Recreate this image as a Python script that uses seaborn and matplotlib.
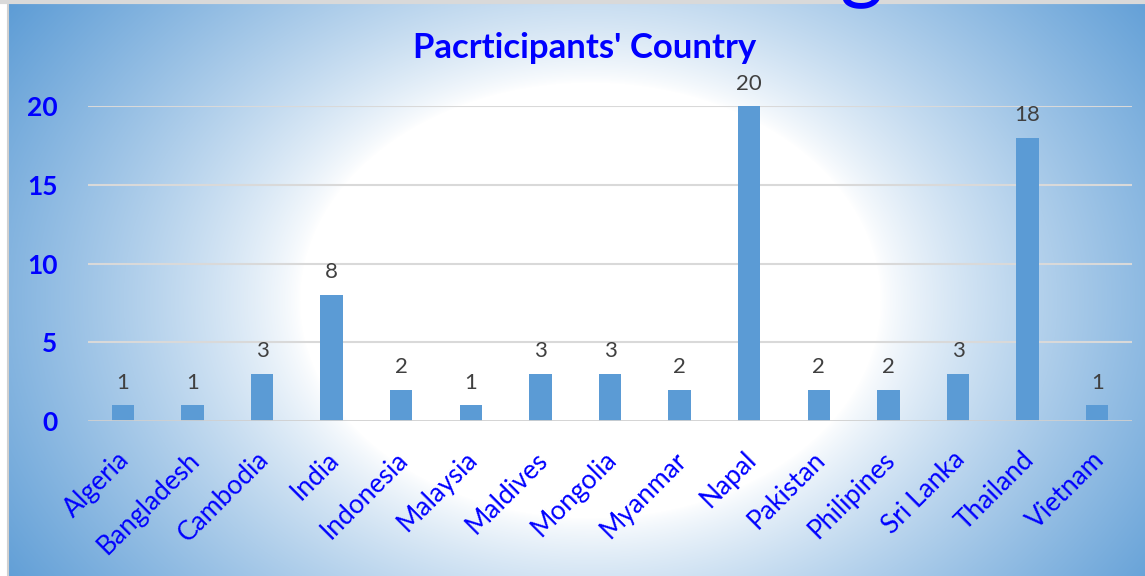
import numpy as np
import pandas as pd
import matplotlib
matplotlib.use("Agg")
import matplotlib.pyplot as plt
import matplotlib.transforms as mtransforms
import seaborn as sns

countries = ["Algeria", "Bangladesh", "Cambodia", "India", "Indonesia", "Malaysia",
             "Maldives", "Mongolia", "Myanmar", "Napal", "Pakistan", "Philipines",
             "Sri Lanka", "Thailand", "Vietnam"]
counts = [1, 1, 3, 8, 2, 1, 3, 3, 2, 20, 2, 2, 3, 18, 1]
yticks = [0, 5, 10, 15, 20]
title = "Pacrticipants' Country"

sns.set_theme(style="white")
plt.rcParams["font.family"] = ["Lato", "DejaVu Sans"]

W, H = 1145, 576
fig = plt.figure(figsize=(W / 100, H / 100), dpi=100, facecolor="white")

# background radial gradient
bx0, by0 = 8, 4
bg = fig.add_axes([bx0 / W, 0, 1 - bx0 / W, 1 - by0 / H], zorder=0)
yy, xx = np.mgrid[by0:H, bx0:W]
cx, cy = 590, 300
d = np.sqrt((xx - cx) ** 2 + ((yy - cy) / 0.75) ** 2)
t = np.clip((d - 290) / 420, 0, 1) ** 0.8
blue = np.array([91, 155, 213]) / 255
white = np.array([1.0, 1.0, 1.0])
img = white[None, None, :] * (1 - t[..., None]) + blue[None, None, :] * t[..., None]
bg.imshow(img, aspect="auto", extent=[0, 1, 0, 1], origin="upper")
bg.set_axis_off()
# border lines
fig.add_artist(plt.Line2D([bx0 / W, bx0 / W], [0, 1], color="#d0d0d0", lw=1.5, zorder=1))
fig.add_artist(plt.Line2D([0, 1], [1 - 2 / H, 1 - 2 / H], color="#d9d9d9", lw=3, zorder=1))

ax = fig.add_axes([88 / W, 155 / H, (1132 - 88) / W, 315 / H], zorder=2)
ax.patch.set_alpha(0)
df = pd.DataFrame({"country": countries, "count": counts})
sns.barplot(data=df, x="country", y="count", color="#5B9BD5", saturation=1,
            width=0.32, linewidth=0, edgecolor="none", ax=ax, zorder=3)
ax.set_xlim(-0.5, len(countries) - 0.5)
ax.set_ylim(0, 20)
ax.set_yticks(yticks)
ax.set_yticklabels([str(v) for v in yticks], fontsize=19, fontweight="bold", color="#0000FF")
ax.tick_params(axis="y", length=0, pad=22)
ax.tick_params(axis="x", length=0, pad=25)
for v in yticks[1:]:
    ax.axhline(v, color="#d9d9d9", lw=1.5, zorder=1)
ax.axhline(0, color="#d0d0d0", lw=2, zorder=4)
for s in ax.spines.values():
    s.set_visible(False)
ax.set_xlabel("")
ax.set_ylabel("")
ax.set_xticks(range(len(countries)))
ax.set_xticklabels(countries, rotation=45, ha="right", rotation_mode="anchor",
                   fontsize=19, color="#0000FF")
shift = mtransforms.ScaledTranslation(3 / 100, 0, fig.dpi_scale_trans)
for lab in ax.get_xticklabels():
    lab.set_va("center")
    lab.set_transform(lab.get_transform() + shift)
for i, v in enumerate(counts):
    ax.annotate(str(v), (i, v), xytext=(0, 9), textcoords="offset points",
                ha="center", va="bottom", fontsize=16, color="#404040")

fig.text(585 / W, 1 - 48 / H, title, ha="center", va="center", fontsize=25,
         fontweight="bold", color="#0000FF")
fig.text(861 / W, 1 + 8 / H, "g", ha="center", va="baseline", fontsize=60,
         color="#0000FF")

fig.savefig("out.png", dpi=100, facecolor="white")
